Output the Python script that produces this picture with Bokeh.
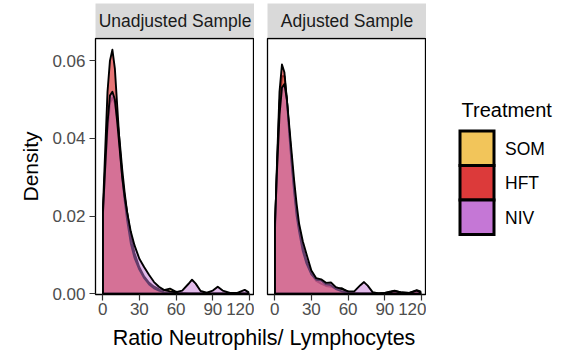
from bokeh.plotting import figure
from bokeh.layouts import column, row
from bokeh.models import Range1d, FixedTicker, PrintfTickFormatter
from bokeh.embed import file_html
from bokeh.resources import INLINE
from bokeh.core.properties import value

FONT = "Liberation Sans"

# ---- data ----
panels = ["Unadjusted Sample", "Adjusted Sample"]
treatments = ["SOM", "HFT", "NIV"]
colors = ["#F2C55A", "#DC3A3A", "#C577D6"]
fill_alphas = [0.6, 0.7, 0.5]

x_grid = [0.3, 2, 4, 6, 8, 10, 12, 14, 16, 18, 20, 23, 26, 30, 34, 38, 42, 46, 50,
          55, 60, 65, 70, 73, 76, 80, 85, 90, 94, 98, 104, 110, 116, 119]

# Unadjusted sample densities
som_unadj = [0.020, 0.031, 0.042, 0.049, 0.0505, 0.049, 0.045, 0.039, 0.032, 0.026, 0.021,
             0.015, 0.0105, 0.0068, 0.0044, 0.0028, 0.0018, 0.0012, 0.0009, 0.0013, 0.0005,
             0.0002, 0.0001, 0.0001, 0.0001, 0.0001, 0.0001, 0.0001, 0.0001, 0.0001, 0.0001,
             0.0001, 0.0001, 0.0001]
hft_unadj = [0.022, 0.036, 0.052, 0.060, 0.0628, 0.058, 0.048, 0.038, 0.030, 0.024, 0.019,
             0.013, 0.0093, 0.0062, 0.0040, 0.0024, 0.0014, 0.0008, 0.0004, 0.0002, 0.0001,
             0.0001, 0.0001, 0.0001, 0.0001, 0.0001, 0.0001, 0.0001, 0.0001, 0.0001, 0.0001,
             0.0001, 0.0001, 0.0001]
niv_unadj = [0.021, 0.032, 0.044, 0.051, 0.052, 0.050, 0.044, 0.037, 0.030, 0.025, 0.021,
             0.016, 0.0125, 0.0090, 0.0068, 0.0048, 0.0030, 0.0018, 0.0010, 0.0006, 0.0004,
             0.0008, 0.0025, 0.0036, 0.0026, 0.0007, 0.0003, 0.0008, 0.0018, 0.0008, 0.0002,
             0.0002, 0.0010, 0.0004]

# Adjusted sample densities
som_adj = [0.017, 0.033, 0.049, 0.056, 0.056, 0.050, 0.042, 0.034, 0.027, 0.021, 0.017,
           0.012, 0.0085, 0.0052, 0.0033, 0.0026, 0.0020, 0.0018, 0.0013, 0.0014, 0.0005,
           0.0002, 0.0001, 0.0001, 0.0001, 0.0001, 0.0001, 0.0001, 0.0001, 0.0001, 0.0001,
           0.0001, 0.0001, 0.0001]
hft_adj = [0.016, 0.034, 0.052, 0.059, 0.057, 0.050, 0.041, 0.033, 0.026, 0.020, 0.016,
           0.011, 0.0078, 0.0050, 0.0036, 0.0034, 0.0024, 0.0022, 0.0012, 0.0006, 0.0003,
           0.0001, 0.0001, 0.0001, 0.0001, 0.0001, 0.0001, 0.0002, 0.0005, 0.0008, 0.0003,
           0.0002, 0.0009, 0.0006]
niv_adj = [0.018, 0.032, 0.046, 0.053, 0.054, 0.050, 0.043, 0.036, 0.029, 0.023, 0.018,
           0.0135, 0.0102, 0.0060, 0.0040, 0.0037, 0.0028, 0.0029, 0.0017, 0.0012, 0.0006,
           0.0006, 0.0022, 0.0030, 0.0021, 0.0004, 0.0001, 0.0002, 0.0004, 0.0007, 0.0003,
           0.0002, 0.0008, 0.0004]

panel_data = [[som_unadj, hft_unadj, niv_unadj], [som_adj, hft_adj, niv_adj]]

x_ticks = [0, 30, 60, 90, 120]
y_ticks = [0.0, 0.02, 0.04, 0.06]
x_title = "Ratio Neutrophils/ Lymphocytes"
y_title = "Density"
legend_title = "Treatment"

# ---- layout constants ----
W, H = 570, 353
FRAME_W = 159
FRAME_H = 256
STRIP_H = 34
X_RANGE = (-5.8, 124.0)
Y_RANGE = (-0.0002, 0.0657)
P1_LEFT, P2_LEFT = 95, 13
MID_TOP, MID_H = 37, 1 + FRAME_H + 28


def bare(width, height, x0, x1, y0, y1, **kw):
    f = figure(width=width, height=height, frame_width=width, frame_height=height,
               min_border_left=0, min_border_right=0, min_border_top=0,
               min_border_bottom=0,
               x_range=Range1d(x0, x1), y_range=Range1d(y0, y1),
               x_axis_location=None, y_axis_location=None, outline_line_color=None,
               toolbar_location=None, output_backend="svg", **kw)
    f.grid.visible = False
    return f


def strip_fig(label, left):
    s = figure(width=left + FRAME_W, height=STRIP_H + 3, min_border_left=left,
               min_border_right=0, min_border_top=3, min_border_bottom=0,
               x_range=Range1d(0, FRAME_W), y_range=Range1d(STRIP_H, 0),
               x_axis_location=None, y_axis_location=None,
               toolbar_location=None, output_backend="svg",
               background_fill_color="#D9D9D9", outline_line_color=None)
    s.grid.visible = False
    s.text(x=[FRAME_W / 2], y=[STRIP_H / 2 + 0.5], text=[label], text_align="center",
           text_baseline="middle", text_font=value(FONT),
           text_font_size="17.5px", text_color="#1A1A1A")
    return s


def panel_fig(series, left, show_y):
    p = figure(width=left + FRAME_W, height=MID_H, min_border_left=left,
               min_border_right=0, min_border_top=1, min_border_bottom=28,
               x_range=Range1d(*X_RANGE), y_range=Range1d(*Y_RANGE),
               y_axis_location="left" if show_y else None,
               toolbar_location=None, output_backend="svg")
    p.grid.visible = False
    p.outline_line_color = "black"
    p.outline_line_width = 1.3
    for vals, col, fa in zip(series, colors, fill_alphas):
        xs = [x_grid[0]] + list(x_grid) + [x_grid[-1]]
        ys = [0.0] + list(vals) + [0.0]
        p.patch(xs, ys, fill_color=col, fill_alpha=fa, line_color="black",
                line_width=1.9, line_join="round")
    p.xaxis.ticker = FixedTicker(ticks=x_ticks)
    if show_y:
        p.yaxis.ticker = FixedTicker(ticks=y_ticks)
        p.yaxis.formatter = PrintfTickFormatter(format="%.2f")
        p.yaxis.axis_label = y_title
        p.yaxis.axis_label_text_font = FONT
        p.yaxis.axis_label_text_font_size = "21px"
        p.yaxis.axis_label_text_font_style = "normal"
        p.yaxis.axis_label_text_color = "black"
        p.yaxis.axis_label_standoff = 7
    for ax in p.axis:
        ax.axis_line_color = None
        ax.major_tick_out = 6
        ax.major_tick_in = 0
        ax.minor_tick_out = 0
        ax.minor_tick_in = 0
        ax.major_tick_line_color = "#333333"
        ax.major_tick_line_width = 1.2
        ax.major_label_text_font = FONT
        ax.major_label_text_font_size = "17px"
        ax.major_label_text_color = "#4D4D4D"
        ax.major_label_standoff = 4
    p.xaxis.major_label_standoff = 2
    return p


s1 = strip_fig(panels[0], P1_LEFT)
s2 = strip_fig(panels[1], P2_LEFT)
p1 = panel_fig(panel_data[0], P1_LEFT, True)
p2 = panel_fig(panel_data[1], P2_LEFT, False)

# legend figure (screen-like coordinates: y grows downward)
LF_X0 = P1_LEFT + FRAME_W + P2_LEFT + FRAME_W
lf = bare(W - LF_X0, MID_H, LF_X0, W, MID_TOP + MID_H, MID_TOP)
KEY_L, KEY_R, KEY_TOP, KEY_H = 459.5, 493.5, 129.5, 34.5
lf.text(x=[461], y=[108], text=[legend_title], text_align="left",
        text_baseline="middle", text_font=value(FONT), text_font_size="20px",
        text_color="black")
tops = [KEY_TOP + i * KEY_H for i in range(len(treatments))]
bottoms = [t + KEY_H for t in tops]
lf.quad(left=[KEY_L] * len(treatments), right=[KEY_R] * len(treatments),
        top=tops, bottom=bottoms, fill_color=colors, line_color="black",
        line_width=3, line_join="miter")
lf.text(x=[KEY_R + 11] * len(treatments), y=[t + KEY_H / 2 + 0.5 for t in tops],
        text=treatments, text_align="left", text_baseline="middle",
        text_font=value(FONT), text_font_size="17.5px", text_color="black")

# x title
XT_TOP = MID_TOP + MID_H
xt = bare(W, H - XT_TOP, 0, W, H, XT_TOP)
xt.text(x=[P1_LEFT + (LF_X0 - P1_LEFT) / 2 + 3], y=[337], text=[x_title],
        text_align="center", text_baseline="middle", text_font=value(FONT),
        text_font_size="21.5px", text_color="black")

layout = column(row(s1, s2), row(p1, p2, lf), xt)

open("out.html", "w").write(file_html(layout, INLINE))
